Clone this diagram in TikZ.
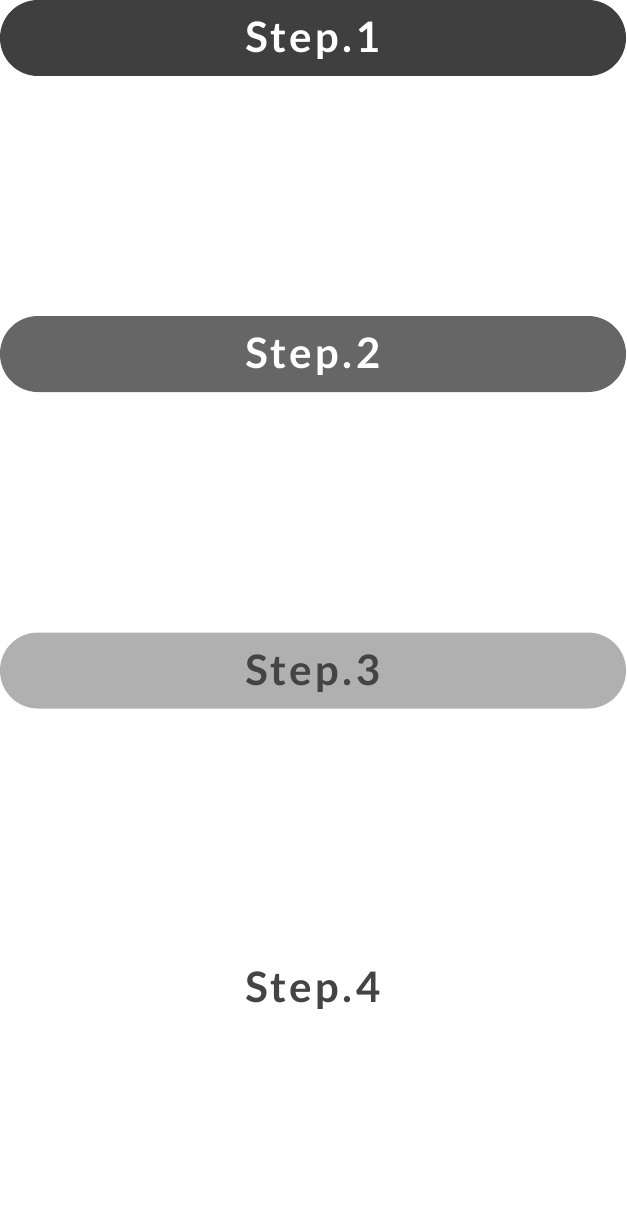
\documentclass[tikz,border=0pt]{standalone}
\usepackage{fontspec}
\newfontfamily\stepfont[LetterSpace=8]{Lato}
\definecolor{stepdark}{HTML}{3F3F3F}
\definecolor{stepmid}{HTML}{666666}
\definecolor{steplight}{HTML}{B0B0B0}
\definecolor{steptext}{HTML}{444444}
\tikzset{every picture/.style={line width=0.75pt}}
\tikzset{stepbar/.style={rounded corners=28.5pt, minimum width=469.5pt, minimum height=57pt, inner sep=0pt, text height=21.8pt, text depth=0pt, font=\stepfont\bfseries\fontsize{31.5}{34}\selectfont}}

\begin{document}
\begin{tikzpicture}[x=0.75pt,y=0.75pt,yscale=-1,xscale=1]
    \useasboundingbox (0,0) rectangle (626,1213); %set diagram size 626 x 1213
    
    % Step bars
    \node [stepbar, fill=stepdark, text=white] (step1) at (313,38) {Step.1};
    \node [stepbar, fill=stepmid, text=white] (step2) at (313,354) {Step.2};
    \node [stepbar, fill=steplight, text=steptext] (step3) at (313,670.5) {Step.3};
    % Text Node
    \node [stepbar, text=steptext] (step4) at (313,988) {Step.4};
    
\end{tikzpicture}
\end{document}
